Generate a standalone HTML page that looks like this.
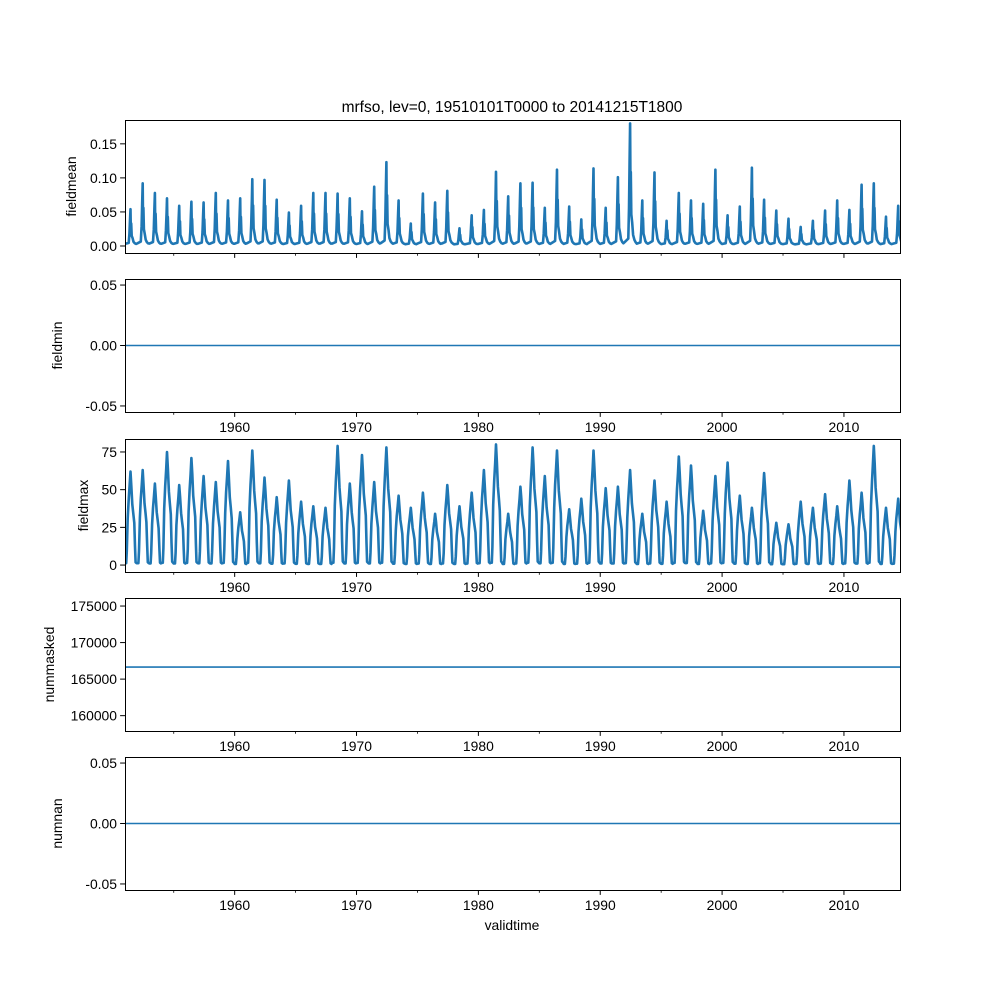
<!DOCTYPE html>
<html><head><meta charset="utf-8"><style>
body{margin:0;background:#fff}
svg{font-family:"Liberation Sans","DejaVu Sans",sans-serif}
</style></head><body>
<svg id="chart" width="1000" height="1000" xmlns="http://www.w3.org/2000/svg">
<rect width="1000" height="1000" fill="#fff"/>
<text x="512" y="112" font-size="15.5" text-anchor="middle">mrfso, lev=0, 19510101T0000 to 20141215T1800</text>
<text x="512" y="930" font-size="13.9" text-anchor="middle">validtime</text>
<g id="panels"></g>
</svg>
<script>
const years = [];
for (let y = 1951; y <= 2014; y++) years.push(y);
const meanPeaks = [0.052,0.090,0.076,0.068,0.057,0.063,0.062,0.076,0.065,0.068,0.096,0.095,0.066,0.047,0.057,0.076,0.076,0.075,0.068,0.049,0.085,0.121,0.065,0.031,0.075,0.062,0.079,0.024,0.043,0.051,0.107,0.071,0.090,0.091,0.054,0.110,0.056,0.037,0.112,0.054,0.099,0.178,0.065,0.106,0.035,0.076,0.065,0.060,0.110,0.043,0.056,0.113,0.066,0.050,0.038,0.026,0.035,0.050,0.065,0.051,0.088,0.090,0.041,0.057];
const maxPeaks = [62,63,54,75,53,71,59,55,69,35,76,58,45,56,42,39,38,79,54,73,55,78,46,38,48,34,53,39,48,63,80,34,52,78,59,76,37,44,76,51,52,63,34,56,42,72,66,36,59,68,46,38,61,28,27,42,38,47,39,56,48,79,38,44];
const fieldminValues = [0, 0];
const nummaskedValues = [166640, 166640];
const numnanValues = [0, 0];
const xTicks = [1960,1970,1980,1990,2000,2010];
const xMinor = [1955,1965,1975,1985,1995,2005];

const X0=125, X1=900, T0=1951.0, T1=2014.6;
function xs(t){return X0+(t-T0)/(T1-T0)*(X1-X0);}
const NS='http://www.w3.org/2000/svg';
const root=document.getElementById('panels');
function mk(tag,attrs,parent){const e=document.createElementNS(NS,tag);for(const k in attrs)e.setAttribute(k,attrs[k]);(parent||root).appendChild(e);return e;}

const panels=[
 {name:'fieldmean',top:120,bot:253,lo:-0.0103,hi:0.185,ticks:[0,0.05,0.10,0.15],fmt:v=>v.toFixed(2),ylx:76,xl:false},
 {name:'fieldmin',top:279,bot:412,lo:-0.055,hi:0.055,ticks:[-0.05,0,0.05],fmt:v=>v.toFixed(2),ylx:62,xl:true},
 {name:'fieldmax',top:439,bot:572,lo:-4.6,hi:83.6,ticks:[0,25,50,75],fmt:v=>String(v),ylx:88,xl:true},
 {name:'nummasked',top:598,bot:731,lo:157900,hi:176100,ticks:[160000,165000,170000,175000],fmt:v=>String(v),ylx:54,xl:true},
 {name:'numnan',top:757,bot:890,lo:-0.055,hi:0.055,ticks:[-0.05,0,0.05],fmt:v=>v.toFixed(2),ylx:62,xl:true}
];

function seriesFor(p){
  const pts=[];
  if(p.name==='fieldmean'){
    const tpl=[[0,0.02],[0.3,0.05],[0.36,0.3],[0.41,0.7],[0.45,1],[0.48,0.45],[0.51,0.6],[0.55,0.25],[0.62,0.18],[0.7,0.08],[0.8,0.04],[0.9,0.02]];
    years.forEach((y,i)=>{tpl.forEach(([t,f])=>pts.push([y+t,meanPeaks[i]*f+0.002]));});
  } else if(p.name==='fieldmax'){
    const tpl=[[0,0.02],[0.1,0.02],[0.15,0.15],[0.22,0.5],[0.3,0.7],[0.38,0.85],[0.45,1],[0.52,0.85],[0.6,0.65],[0.68,0.55],[0.76,0.45],[0.82,0.2],[0.87,0.03],[0.95,0.02]];
    years.forEach((y,i)=>{tpl.forEach(([t,f])=>pts.push([y+t,maxPeaks[i]*f]));});
  } else {
    const v=p.name==='fieldmin'?fieldminValues:p.name==='nummasked'?nummaskedValues:numnanValues;
    pts.push([T0,v[0]]);pts.push([T1,v[1]]);
  }
  return pts;
}

panels.forEach(p=>{
  const g=mk('g',{});
  
  
  const ys=v=>p.bot-(v-p.lo)/(p.hi-p.lo)*(p.bot-p.top);
  const pts=seriesFor(p);
  const clip=mk('clipPath',{id:'c'+p.name},g);
  mk('rect',{x:X0,y:p.top,width:X1-X0,height:p.bot-p.top},clip);
  const line=mk('polyline',{points:pts.map(q=>xs(q[0]).toFixed(1)+','+ys(q[1]).toFixed(1)).join(' '),fill:'none',stroke:'#1f77b4','stroke-width':p.name==='fieldmean'||p.name==='fieldmax'?2.6:1.6,'stroke-linejoin':'round','clip-path':'url(#c'+p.name+')'},g);
  
  
  const fr=mk('rect',{x:X0+0.5,y:p.top+0.5,width:X1-X0,height:p.bot-p.top,fill:'none',stroke:'#000','stroke-width':1},g);
  
  
  p.ticks.forEach(v=>{
    const y=ys(v);
    mk('line',{x1:X0-4.9,x2:X0,y1:y,y2:y,stroke:'#000','stroke-width':1},g);
    const t=mk('text',{x:X0-8,y:y+5,'font-size':13.9,'text-anchor':'end'},g);
    t.textContent=p.fmt(v);
    
    
  });
  const cy=(p.top+p.bot)/2;
  const yl=mk('text',{x:p.ylx,y:cy,'font-size':13.9,'text-anchor':'middle',transform:'rotate(-90 '+p.ylx+' '+cy+')'},g);
  yl.textContent=p.name;
  
  
  xTicks.forEach(v=>{
    const x=xs(v);
    mk('line',{x1:x,x2:x,y1:p.bot,y2:p.bot+4.9,stroke:'#000','stroke-width':1},g);
    if(p.xl){
      const t=mk('text',{x:x,y:p.bot+20,'font-size':13.9,'text-anchor':'middle'},g);
      t.textContent=v;
      
      
    }
  });
  xMinor.forEach(v=>{const x=xs(v);mk('line',{x1:x,x2:x,y1:p.bot,y2:p.bot+2.8,stroke:'#000','stroke-width':0.8},g);});
});
</script>
</body></html>
